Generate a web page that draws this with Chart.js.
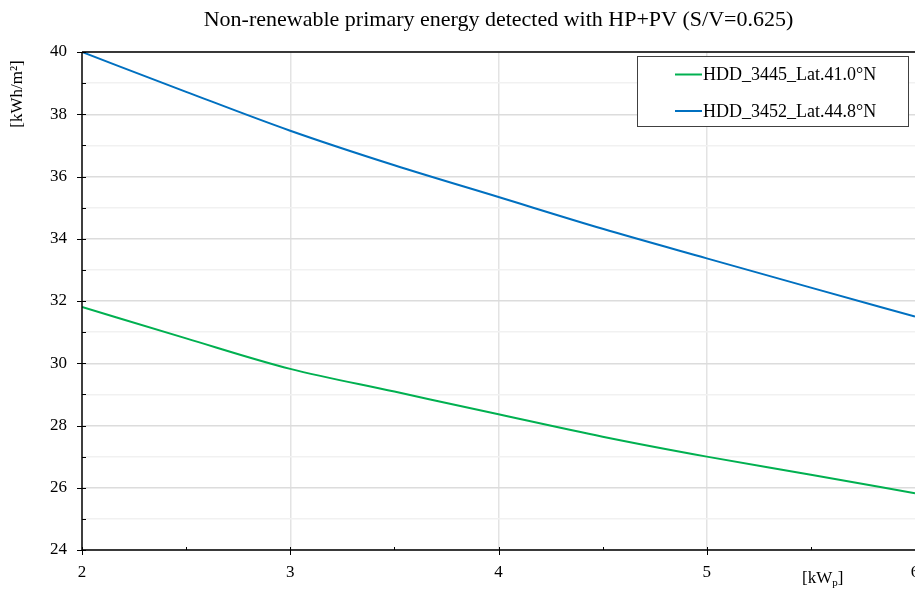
<!DOCTYPE html>
<html>
<head>
<meta charset="utf-8">
<script src="https://cdn.jsdelivr.net/npm/chart.js@4/dist/chart.umd.min.js"></script>
<style>
html,body{margin:0;padding:0;background:#fff;}
#wrap{width:915px;height:590px;position:relative;}
</style>
</head>
<body>
<div id="wrap"><canvas id="c" width="915" height="590"></canvas></div>
<script>
// ---- data ----
const xValues = [2, 2.5, 3, 3.5, 4, 4.5, 5, 5.5, 6];
const seriesLabels = ['HDD_3445_Lat.41.0°N', 'HDD_3452_Lat.44.8°N'];
const greenValues = [31.81, 30.80, 29.82, 29.09, 28.36, 27.64, 27.00, 26.42, 25.82];
const blueValues  = [40.00, 38.72, 37.47, 36.36, 35.34, 34.32, 33.37, 32.43, 31.50];
const xTicks = [2, 3, 4, 5, 6];
const yTicks = [24, 26, 28, 30, 32, 34, 36, 38, 40];
const titleText = 'Non-renewable primary energy detected with HP+PV (S/V=0.625)';
const yTitle = '[kWh/m²]';

const SERIF = "'Liberation Serif', 'Times New Roman', serif";
Chart.defaults.font.family = SERIF;
Chart.defaults.color = '#000';

const toPts = vals => xValues.map((x, i) => ({x: x, y: vals[i]}));

const decor = {
  id: 'decor',
  afterDraw(chart) {
    const {ctx, chartArea: a, scales: {x, y}} = chart;
    ctx.save();
    // frame: left, bottom, top
    ctx.strokeStyle = '#000';
    ctx.lineWidth = 1.5;
    ctx.beginPath();
    ctx.moveTo(a.left, a.top); ctx.lineTo(chart.width, a.top);
    ctx.moveTo(a.left, a.top); ctx.lineTo(a.left, a.bottom);
    ctx.lineTo(chart.width, a.bottom);
    ctx.stroke();
    ctx.lineWidth = 1;
    // y ticks
    for (let v = y.min; v <= y.max; v += 1) {
      const py = Math.round(y.getPixelForValue(v)) + 0.5;
      ctx.beginPath();
      if (v % 2 === 0) { ctx.moveTo(a.left - 5, py); ctx.lineTo(a.left + 4, py); }
      else { ctx.moveTo(a.left, py); ctx.lineTo(a.left + 4, py); }
      ctx.stroke();
    }
    // x ticks
    for (let v = x.min; v <= x.max; v += 0.5) {
      const px = Math.round(x.getPixelForValue(v)) + 0.5;
      ctx.beginPath();
      if (Number.isInteger(v)) { ctx.moveTo(px, a.bottom - 3); ctx.lineTo(px, a.bottom + 5); }
      else { ctx.moveTo(px, a.bottom - 3); ctx.lineTo(px, a.bottom); }
      ctx.stroke();
    }
    // y axis title (rotated)
    ctx.fillStyle = '#000';
    ctx.font = '17px ' + SERIF;
    ctx.save();
    ctx.translate(18, 94);
    ctx.rotate(-Math.PI / 2);
    ctx.textAlign = 'center';
    ctx.textBaseline = 'middle';
    ctx.fillText(yTitle, 0, 0);
    ctx.restore();
    // x axis title with subscript
    ctx.textAlign = 'left';
    ctx.textBaseline = 'alphabetic';
    let tx = 802, ty = 583;
    ctx.font = '17px ' + SERIF;
    ctx.fillText('[kW', tx, ty); tx += ctx.measureText('[kW').width;
    ctx.font = '11px ' + SERIF;
    ctx.fillText('p', tx, ty + 3); tx += ctx.measureText('p').width;
    ctx.font = '17px ' + SERIF;
    ctx.fillText(']', tx, ty);
    // legend
    const lx = 637, ly = 56, lw = 271, lh = 70;
    ctx.fillStyle = '#fff';
    ctx.fillRect(lx, ly, lw, lh);
    ctx.strokeStyle = '#404040';
    ctx.lineWidth = 1;
    ctx.strokeRect(lx + 0.5, ly + 0.5, lw, lh);
    ctx.font = '18px ' + SERIF;
    ctx.textBaseline = 'middle';
    chart.data.datasets.forEach((ds, i) => {
      const yy = 74.5 + i * 36.5;
      ctx.strokeStyle = ds.borderColor;
      ctx.lineWidth = 2;
      ctx.beginPath(); ctx.moveTo(675, yy); ctx.lineTo(702, yy); ctx.stroke();
      ctx.fillStyle = '#000';
      ctx.fillText(ds.label, 703, yy + 1);
    });
    ctx.restore();
  }
};

new Chart(document.getElementById('c'), {
  type: 'line',
  data: {
    datasets: [
      {label: seriesLabels[0], data: toPts(greenValues), borderColor: '#00b050', borderWidth: 2,
       pointRadius: 0, cubicInterpolationMode: 'monotone', fill: false},
      {label: seriesLabels[1], data: toPts(blueValues), borderColor: '#0070c0', borderWidth: 2,
       pointRadius: 0, cubicInterpolationMode: 'monotone', fill: false}
    ]
  },
  options: {
    responsive: false,
    animation: false,
    layout: {padding: {left: 0, right: 0, top: 0, bottom: 0}},
    plugins: {
      legend: {display: false},
      tooltip: {enabled: false},
      title: {display: true, text: titleText, fullSize: false, color: '#000',
              font: {size: 22, weight: 'normal', family: SERIF, lineHeight: 1.2},
              padding: {top: 7, bottom: 18.6}}
    },
    scales: {
      x: {
        type: 'linear', min: 2, max: 6,
        afterBuildTicks: s => { s.ticks = xTicks.map(v => ({value: v})); },
        ticks: {font: {size: 17}, color: '#000', padding: 12, maxRotation: 0},
        grid: {color: ctx => (ctx.tick && (ctx.tick.value === 2 || ctx.tick.value === 6)) ? 'rgba(0,0,0,0)' : '#e3e3e3', lineWidth: 1.5, drawTicks: false},
        border: {display: false},
        afterFit: s => { s.height = 40; s.paddingLeft = 0; s.paddingRight = 0; }
      },
      y: {
        type: 'linear', min: 24, max: 40,
        afterBuildTicks: s => { const t = []; for (let v = 24; v <= 40; v++) t.push({value: v}); s.ticks = t; },
        ticks: {font: {size: 17}, color: '#000', padding: 15,
                callback: v => yTicks.includes(v) ? String(v) : ''},
        grid: {color: ctx => (ctx.tick && ctx.tick.value % 2 === 0) ? '#dcdcdc' : '#f1f1f1', lineWidth: 1.5, drawTicks: false},
        border: {display: false},
        afterFit: s => { s.width = 82; s.paddingTop = 0; s.paddingBottom = 0; }
      }
    }
  },
  plugins: [decor]
});
</script>
</body>
</html>
